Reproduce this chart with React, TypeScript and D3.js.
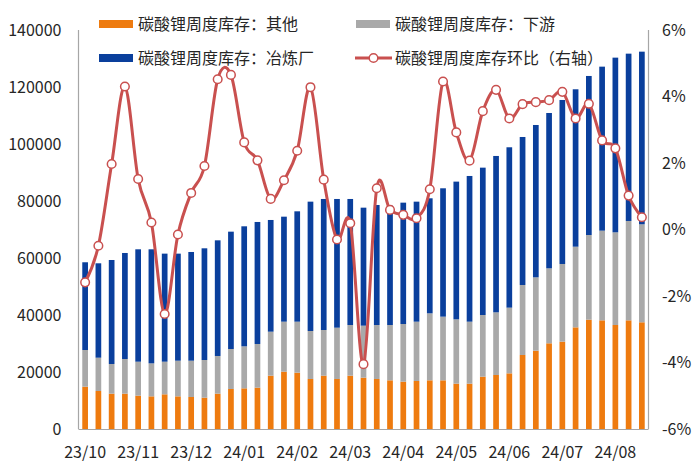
import React from "react";
import * as d3 from "d3";

const weeks = [
  "2023-10-26", "2023-11-02", "2023-11-09", "2023-11-16", "2023-11-23", "2023-11-30",
  "2023-12-07", "2023-12-14", "2023-12-21", "2023-12-28", "2024-01-04", "2024-01-11",
  "2024-01-18", "2024-01-25", "2024-02-01", "2024-02-08", "2024-02-15", "2024-02-22",
  "2024-02-29", "2024-03-07", "2024-03-14", "2024-03-21", "2024-03-28", "2024-04-04",
  "2024-04-11", "2024-04-18", "2024-04-25", "2024-05-02", "2024-05-09", "2024-05-16",
  "2024-05-23", "2024-05-30", "2024-06-06", "2024-06-13", "2024-06-20", "2024-06-27",
  "2024-07-04", "2024-07-11", "2024-07-18", "2024-07-25", "2024-08-01", "2024-08-08",
  "2024-08-15",
];

// 碳酸锂周度库存：其他
const other = [
  14850, 13330, 12400, 12400, 11700, 11460, 12170, 11460, 11230, 10990, 12400, 14040,
  14270, 14500, 18710, 20110, 19760, 17550, 18710, 17550, 18710, 18010, 17550, 17080,
  16610, 16840, 17080, 17080, 15910, 15910, 18360, 18950, 19530, 25970, 27480, 30070,
  30650, 35670, 38360, 38130, 36490, 38130, 37440,
];
// 碳酸锂周度库存：下游
const downstream = [
  12870, 11690, 10410, 12160, 11920, 11580, 11450, 12510, 12740, 13220, 13220, 14030,
  14740, 15330, 15440, 17550, 17900, 16840, 16030, 18000, 17780, 18250, 18940, 19410,
  20230, 20820, 23510, 22340, 22570, 21750, 21640, 21990, 23050, 24560, 25740, 26310,
  27250, 28300, 29710, 31460, 32520, 34860, 34390,
];
// 碳酸锂周度库存：冶炼厂
const smelter = [
  30780, 33120, 36490, 37200, 39430, 40010, 37910, 37560, 38140, 39190, 40580, 41170,
  42110, 42810, 39190, 36840, 38720, 45380, 45970, 45160, 44220, 41400, 42110, 41880,
  42580, 42110, 40360, 45040, 48320, 51120, 51700, 54860, 56270, 51930, 53450, 54500,
  57550, 55230, 55800, 57550, 61290, 58710, 60570,
];
// 碳酸锂周度库存环比（右轴），%
const mom = [
  -1.59, -0.49, 1.97, 4.3, 1.52, 0.21, -2.54, -0.15, 1.1, 1.91, 4.52, 4.65,
  2.62, 2.08, 0.92, 1.48, 2.37, 4.28, 1.5, -0.3, 0.19, -4.05, 1.24, 0.59,
  0.44, 0.34, 1.21, 4.45, 2.92, 2.07, 3.56, 4.2, 3.34, 3.77, 3.83, 3.89,
  4.14, 3.34, 3.78, 2.68, 2.44, 1.02, 0.37,
];

const leftTicks = [0, 20000, 40000, 60000, 80000, 100000, 120000, 140000];
const rightTicks = [-6, -4, -2, 0, 2, 4, 6];
const seriesNames = ["碳酸锂周度库存：其他", "碳酸锂周度库存：下游", "碳酸锂周度库存：冶炼厂", "碳酸锂周度库存环比（右轴）"];
const colors = ["#EE7B0F", "#A9A9A9", "#0A3F9C"];
const lineColor = "#C9504F";

const W = 700, H = 466;
const L = 78.5, R = 648.5, T = 30, B = 429;
const font = "'Noto Sans CJK SC', 'Noto Sans', sans-serif";
const textColor = "#262626";

export default function App() {
  const x = d3.scaleBand<string>().domain(weeks).range([L, R]).paddingInner(0.57).paddingOuter(0.285);
  const y = d3.scaleLinear().domain([0, 140000]).range([B, T]);
  const yR = d3.scaleLinear().domain([-6, 6]).range([B, T]);

  const table = weeks.map((w, i) => ({ w, other: other[i], downstream: downstream[i], smelter: smelter[i] }));
  const stack = d3.stack<any>().keys(["other", "downstream", "smelter"])(table);

  const cx = (i: number) => (x(weeks[i]) as number) + x.bandwidth() / 2;
  const line = d3.line<number>().x((_, i) => cx(i)).y((d) => yR(d)).curve(d3.curveCardinal.tension(0));

  const tickIdx = weeks.map((_, i) => i).filter((i) => i % 4 === 0);
  const fmtLabel = (s: string) => s.slice(2, 4) + "/" + s.slice(5, 7);

  return (
    <svg width={W} height={H} style={{ position: "absolute", left: 0, top: 0, background: "#fff" }} fontFamily={font}>
      {stack.map((layer, k) => (
        <g key={k} fill={colors[k]}>
          {layer.map((d, i) => (
            <rect key={i} x={x(weeks[i])} width={x.bandwidth()} y={y(d[1])} height={y(d[0]) - y(d[1])} />
          ))}
        </g>
      ))}
      {/* axes lines */}
      <line x1={L} x2={L} y1={T} y2={B} stroke="#A6A6A6" strokeWidth={1.2} />
      <line x1={R} x2={R} y1={T} y2={B} stroke="#A6A6A6" strokeWidth={1.2} />
      <line x1={L} x2={R} y1={B + 0.5} y2={B + 0.5} stroke="#A6A6A6" strokeWidth={1.2} />
      {/* left ticks */}
      {leftTicks.map((t) => (
        <text key={t} x={61.5} y={y(t)} dy="0.35em" textAnchor="end" fontSize={16} fill={textColor}>{t}</text>
      ))}
      {rightTicks.map((t) => (
        <text key={t} x={662} y={yR(t)} dy="0.35em" textAnchor="start" fontSize={16} fill={textColor}>{t + "%"}</text>
      ))}
      {tickIdx.map((i) => (
        <text key={i} x={cx(i)} y={452} dy="0.35em" textAnchor="middle" fontSize={16} fill={textColor}>{fmtLabel(weeks[i])}</text>
      ))}
      {/* line */}
      <path d={line(mom) || ""} fill="none" stroke={lineColor} strokeWidth={3} />
      {mom.map((v, i) => (
        <circle key={i} cx={cx(i)} cy={yR(v)} r={4.3} fill="#fff" stroke={lineColor} strokeWidth={1.5} />
      ))}
      {/* legend */}
      <g fontSize={16} fill={textColor}>
        <rect x={99} y={20} width={34} height={8} fill={colors[0]} />
        <text x={138} y={24} dy="0.35em">{seriesNames[0]}</text>
        <rect x={356} y={20} width={34} height={8} fill={colors[1]} />
        <text x={395} y={24} dy="0.35em">{seriesNames[1]}</text>
        <rect x={99} y={54} width={34} height={8} fill={colors[2]} />
        <text x={138} y={58} dy="0.35em">{seriesNames[2]}</text>
        <line x1={355} x2={392} y1={58} y2={58} stroke={lineColor} strokeWidth={3} />
        <circle cx={373.5} cy={58} r={4.3} fill="#fff" stroke={lineColor} strokeWidth={1.5} />
        <text x={395} y={58} dy="0.35em">{seriesNames[3]}</text>
      </g>
    </svg>
  );
}
